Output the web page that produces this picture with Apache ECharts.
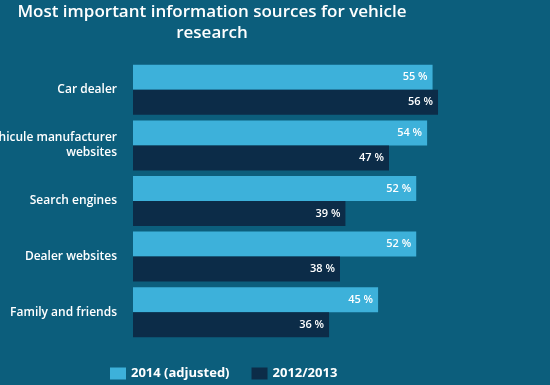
<!DOCTYPE html>
<html><head><meta charset="utf-8">
<script src="https://cdn.jsdelivr.net/npm/echarts@6/dist/echarts.min.js"></script>
<style>html,body{margin:0;padding:0;background:#0c5e7c}#c{width:550px;height:385px}</style>
</head><body><div id="c"></div>
<script>
const categories = ['Car dealer', 'Vehicule manufacturer\nwebsites', 'Search engines', 'Dealer websites', 'Family and friends'];
const series2014 = [55, 54, 52, 52, 45];
const series2012 = [56, 47, 39, 38, 36];
const seriesNames = ['2014 (adjusted)', '2012/2013'];

const chart = echarts.init(document.getElementById('c'));
const font = 'Open Sans';
const lbl = {show: true, position: 'insideRight', formatter: '{c} %', color: '#fff', fontSize: 11, fontWeight: 600, fontFamily: font, distance: 5};
chart.setOption({
  backgroundColor: '#0c5e7c',
  animation: false,
  title: {
    text: 'Most important information sources for vehicle\nresearch',
    left: 207, textAlign: 'center', top: -3,
    textStyle: {color: '#fff', fontSize: 17, fontWeight: 600, fontFamily: font, lineHeight: 21}
  },
  legend: {
    top: 362, left: 105,
    itemWidth: 16, itemHeight: 12, itemGap: 22,
    icon: 'rect',
    textStyle: {color: '#fff', fontSize: 13, fontWeight: 'bold', fontFamily: font},
    data: seriesNames
  },
  grid: {left: 133, top: 62, width: 326.8, height: 278, containLabel: false, outerBoundsMode: 'none'},
  xAxis: {type: 'value', min: 0, max: 60, show: false},
  yAxis: {
    type: 'category', inverse: true, data: categories,
    axisLine: {show: false}, axisTick: {show: false}, splitLine: {show: false},
    axisLabel: {color: '#fff', fontSize: 12, fontWeight: 600, fontFamily: font, margin: 16, lineHeight: 15, align: 'right'}
  },
  series: [
    {name: seriesNames[0], type: 'bar', data: series2014, barGap: '0%', barCategoryGap: '10%', itemStyle: {color: '#3db1da'}, label: lbl},
    {name: seriesNames[1], type: 'bar', data: series2012, barGap: '0%', barCategoryGap: '10%', itemStyle: {color: '#0c2c48'}, label: lbl}
  ]
});
</script></body></html>
